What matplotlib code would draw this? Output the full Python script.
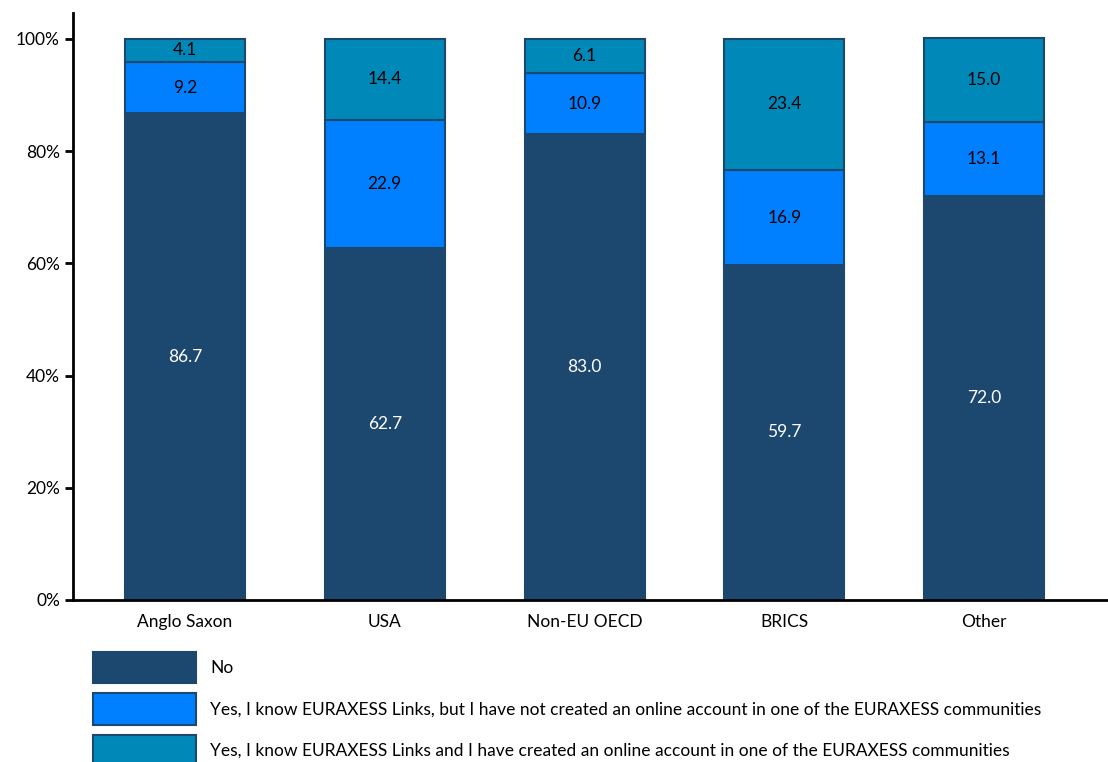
import matplotlib.pyplot as plt
import numpy as np
from matplotlib.patches import Patch

plt.rcParams["font.family"] = ["Lato", "DejaVu Sans"]

categories = ["Anglo Saxon", "USA", "Non-EU OECD", "BRICS", "Other"]
no_vals = [86.7, 62.7, 83.0, 59.7, 72.0]
know_no_account = [9.2, 22.9, 10.9, 16.9, 13.1]
know_account = [4.1, 14.4, 6.1, 23.4, 15.0]

series_labels = [
    "No",
    "Yes, I know EURAXESS Links, but I have not created an online account in one of the EURAXESS communities",
    "Yes, I know EURAXESS Links and I have created an online account in one of the EURAXESS communities",
]
colors = ["#1C476E", "#0080FF", "#0089B8"]
edge = "#1C476E"
text_colors = ["white", "black", "black"]
fs = 12.5

fig = plt.figure(figsize=(11.08, 7.62), dpi=100)
ax = fig.add_axes([0.066, 0.2126, 0.934, 0.7704])

x = np.arange(len(categories))
bottom = np.zeros(len(categories))
for vals, col, tc in zip([no_vals, know_no_account, know_account], colors, text_colors):
    vals = np.array(vals)
    ax.bar(x, vals, 0.6, bottom=bottom, color=col, edgecolor=edge, linewidth=1.5)
    for xi, b, v in zip(x, bottom, vals):
        ax.text(xi, b + v / 2, f"{v:.1f}", ha="center", va="center", color=tc, fontsize=fs)
    bottom += vals

ax.set_xlim(-0.56, 4.62)
ax.set_ylim(0, 104.6)
ax.set_yticks(np.arange(0, 101, 20))
ax.set_yticklabels([f"{t}%" for t in range(0, 101, 20)], fontsize=fs)
ax.set_xticks(x)
ax.set_xticklabels(categories, fontsize=fs)
ax.tick_params(axis="x", length=0, pad=10)
ax.tick_params(axis="y", length=6, width=2, direction="out")
for s in ["top", "right"]:
    ax.spines[s].set_visible(False)
for s in ["left", "bottom"]:
    ax.spines[s].set_linewidth(2)

handles = [Patch(facecolor=c, edgecolor=edge, linewidth=1.5) for c in colors]
fig.legend(handles, series_labels, loc="upper left", bbox_to_anchor=(0.084, 0.145),
           frameon=False, fontsize=fs, handlelength=5.9, handleheight=2.4,
           labelspacing=0.6, handletextpad=0.85, borderaxespad=0, borderpad=0)

fig.savefig("out.png", dpi=100)
